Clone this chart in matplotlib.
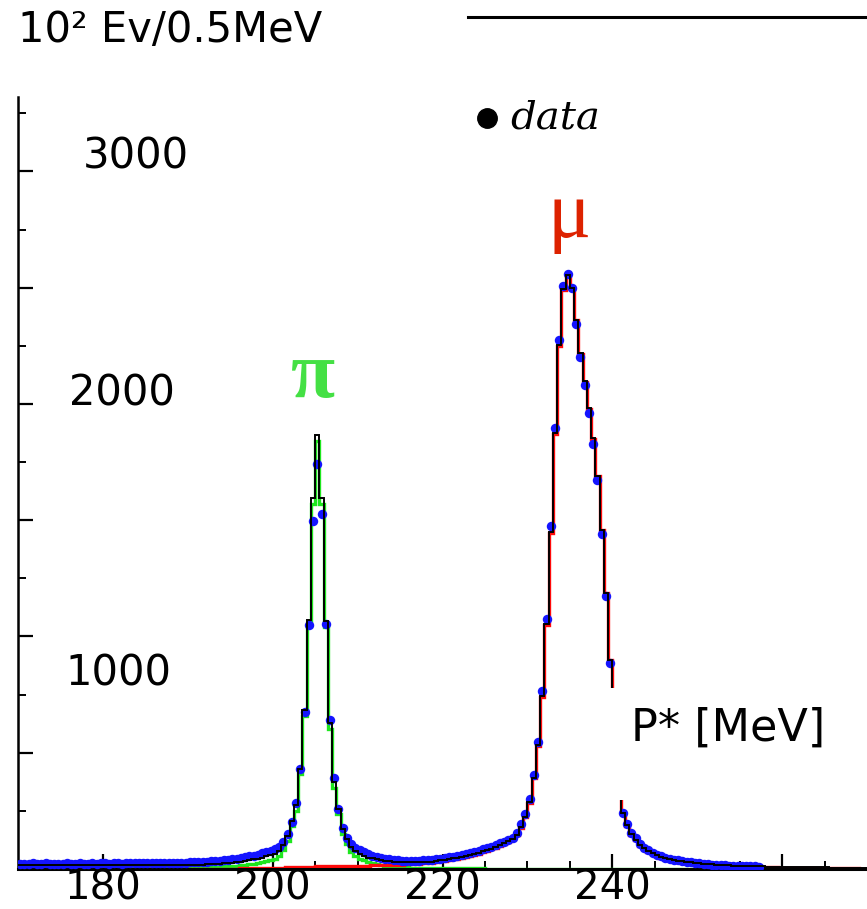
import matplotlib.pyplot as plt
import numpy as np
from matplotlib.lines import Line2D
from matplotlib.patches import Rectangle

# 0.5 MeV bins from 170 to 270 MeV
edges = np.arange(170.0, 270.01, 0.5)

# measured events per bin (dots), bins 170.0 ... 257.0
data = [
    22, 23, 22, 24, 23, 22, 24, 23, 22, 23,            # 170
    23, 24, 22, 23, 24, 23, 22, 24, 23, 24,            # 175
    24, 23, 25, 24, 23, 25, 24, 24, 25, 24,            # 180
    25, 26, 25, 24, 26, 25, 26, 27, 26, 27,            # 185
    28, 29, 30, 31, 32, 33, 35, 36, 38, 40,            # 190
    42, 44, 47, 50, 54, 58, 62, 67, 72, 78,            # 195
    86, 96, 115, 150, 200, 285, 430, 675, 1050, 1496,  # 200
    1741, 1526, 1055, 642, 391, 258, 176, 133, 108, 92,  # 205
    80, 71, 64, 58, 53, 49, 45, 42, 40, 38,            # 210
    36, 35, 35, 35, 36, 37, 38, 40, 42, 44,            # 215
    47, 50, 53, 56, 60, 64, 68, 73, 78, 84,            # 220
    90, 96, 103, 110, 117, 125, 135, 156, 192, 235,    # 225
    300, 403, 546, 765, 1076, 1475, 1898, 2275, 2507, 2560,  # 230
    2497, 2345, 2202, 2080, 1959, 1829, 1671, 1439, 1174, 887,  # 235
    600, 400, 242, 195, 153, 132, 109, 92, 80, 70,     # 240
    62, 55, 49, 44, 40, 37, 34, 31, 29, 27,            # 245
    25, 23, 21, 19, 18, 17, 16, 15, 14, 13,            # 250
    12, 12, 11, 11, 10,                                # 255
]

# pi component (green)
pi_mc = [
    2, 2, 2, 2, 2, 2, 2, 2, 2, 2,
    2, 2, 2, 2, 2, 2, 2, 2, 2, 2,
    3, 3, 3, 3, 3, 3, 3, 3, 3, 3,
    4, 4, 4, 4, 5, 5, 5, 5, 6, 6,
    6, 7, 7, 8, 8, 9, 9, 10, 11, 12,
    13, 14, 16, 18, 20, 23, 26, 30, 35, 40,
    45, 55, 80, 120, 185, 250, 408, 658, 1045, 1570,
    1840, 1570, 1040, 602, 348, 237, 150, 107, 75, 56,
    45, 37, 30, 26, 22, 18, 15, 13, 11, 9,
    8, 7, 6, 6, 5, 5, 5, 4, 4, 4,
    3, 3, 3, 3, 3, 3, 3, 3, 3, 3,
    2, 2, 2, 2, 2, 2, 2, 2, 2, 2,
    2, 2, 2, 2, 2, 2, 2, 2, 2, 2,
    2, 2, 2, 2, 2, 2, 2, 2, 2, 2,
    2, 2, 2, 2, 2, 2, 2, 2, 2, 2,
    2, 2, 2, 2, 2, 2, 2, 2, 2, 2,
    2, 2, 2, 2, 2, 2, 2, 2, 2, 2,
    2, 2, 2, 2, 2, 2, 2, 2, 2, 2,
    2, 2, 2, 2, 2, 2, 2, 2, 2, 2,
    2, 2, 2, 2, 2, 2, 2, 2, 2, 2,
]

# mu component (red)
mu_mc = [
    0, 0, 0, 0, 0, 0, 0, 0, 0, 0,
    0, 0, 0, 0, 0, 0, 0, 0, 0, 0,
    0, 0, 0, 0, 0, 0, 0, 0, 0, 0,
    0, 0, 0, 0, 0, 0, 0, 0, 0, 0,
    0, 0, 0, 0, 1, 1, 1, 1, 2, 2,
    2, 2, 3, 3, 3, 4, 4, 4, 5, 5,
    5, 6, 6, 7, 7, 8, 8, 9, 10, 10,
    11, 12, 12, 13, 13, 13, 14, 14, 14, 14,
    14, 15, 15, 16, 16, 17, 17, 18, 18, 19,
    19, 20, 21, 22, 23, 24, 26, 27, 30, 33,
    36, 39, 42, 45, 49, 53, 57, 62, 66, 72,
    78, 85, 92, 100, 108, 118, 128, 145, 178, 222,
    285, 390, 530, 740, 1050, 1445, 1870, 2250, 2490, 2550,
    2495, 2360, 2215, 2096, 1979, 1850, 1688, 1456, 1186, 897,
    590, 390, 236, 186, 146, 123, 101, 86, 74, 64,
    56, 49, 44, 40, 36, 33, 30, 27, 25, 23,
    21, 20, 18, 17, 16, 15, 14, 13, 12, 11,
    10, 10, 9, 9, 8, 8, 7, 7, 7, 6,
    6, 6, 5, 5, 5, 5, 4, 4, 4, 4,
    4, 3, 3, 3, 3, 3, 3, 3, 2, 2,
]

# remaining background in the total (black)
other_mc = [
    14, 14, 14, 14, 14, 14, 14, 14, 14, 14,
    14, 14, 14, 14, 14, 14, 14, 14, 14, 14,
    14, 14, 14, 14, 13, 13, 13, 13, 13, 13,
    13, 13, 12, 12, 12, 12, 12, 12, 11, 11,
    11, 11, 11, 11, 11, 11, 12, 12, 12, 12,
    12, 13, 13, 13, 14, 14, 14, 15, 15, 15,
    16, 16, 16, 16, 16, 16, 15, 15, 14, 14,
    14, 13, 13, 12, 11, 10, 9, 8, 7, 6,
    5, 5, 4, 4, 3, 3, 3, 2, 2, 2,
    2, 2, 2, 2, 2, 1, 1, 1, 1, 1,
    1, 1, 1, 1, 1, 1, 1, 1, 1, 1,
    1, 1, 1, 1, 1, 1, 1, 1, 1, 1,
    1, 1, 1, 1, 1, 1, 1, 1, 1, 1,
    1, 1, 1, 1, 1, 1, 1, 1, 1, 1,
    1, 1, 1, 1, 1, 1, 1, 1, 1, 1,
    1, 1, 1, 1, 1, 1, 1, 1, 1, 1,
    1, 1, 1, 1, 1, 1, 1, 1, 1, 1,
    1, 1, 1, 1, 1, 1, 1, 1, 1, 1,
    1, 1, 1, 1, 1, 1, 1, 1, 1, 1,
    1, 1, 1, 1, 1, 1, 1, 1, 1, 1,
]

x_ticks = [180, 200, 220, 240, 260]
x_ticklabels = ['180', '200', '220', '240', '']
y_labels = ['3000', '2000', '1000']

pi_mc = np.array(pi_mc)
mu_mc = np.array(mu_mc)
total_mc = pi_mc + mu_mc + np.array(other_mc)
centers = 0.5 * (edges[:-1] + edges[1:])

fig = plt.figure(figsize=(8.67, 9.09), dpi=100)
ax = fig.add_axes([18 / 867, 40 / 909, 849 / 867, 772 / 909])

ax.plot(centers[:len(data)], data, 'o', color='#1414ff', ms=6.8, mec='none', zorder=3)
ax.stairs(pi_mc, edges, color='#1ee61e', lw=2.4, baseline=None, zorder=2)
ax.stairs(mu_mc, edges, color='#ff0a0a', lw=2.4, baseline=None, zorder=2)
ax.stairs(total_mc, edges, color='black', lw=1.4, baseline=None, zorder=4)

ax.set_xlim(170, 270)
ax.set_ylim(0, 3320)

ax.set_xticks(x_ticks)
ax.set_xticklabels(x_ticklabels, fontsize=29)
ax.set_xticks(np.arange(175, 270, 5), minor=True)
ax.set_yticks(np.arange(0, 3320, 500))
ax.set_yticks(np.arange(250, 3320, 500), minor=True)
ax.tick_params(axis='both', which='major', direction='in', length=10.5, width=1.6, pad=0)
ax.tick_params(axis='both', which='minor', direction='in', length=5.5, width=1.4)
ax.tick_params(axis='y', labelleft=False)

for side in ['top', 'right']:
    ax.spines[side].set_visible(False)
ax.spines['left'].set_linewidth(1.8)
ax.spines['bottom'].set_linewidth(2.2)

# the y labels sit loosely beside their ticks, as in the original
for lab, xf, yv in zip(y_labels, [0.139, 0.1225, 0.118], [3066, 2043, 839]):
    ax.text(xf, yv, lab, transform=ax.get_yaxis_transform(), fontsize=30,
            ha='center', va='center')

# white patch behind the axis title
ax.add_patch(Rectangle((239.3, 297), 31, 481, facecolor='white', edgecolor='none', zorder=5))
ax.text(253.7, 606, 'P* [MeV]', fontsize=32, ha='center', va='center', zorder=6)

ax.text(204.7, 2112, 'π', color='#44e044', fontsize=58, family='Liberation Serif',
        weight='bold', ha='center', va='center')
ax.text(234.9, 2800, 'μ', color='#dd2200', fontsize=58, family='Liberation Serif',
        ha='center', va='center')

ax.plot([225.2], [3230], 'o', color='black', ms=14, clip_on=False)
ax.text(228.0, 3230, 'data', fontsize=29, style='italic', family='DejaVu Serif',
        ha='left', va='center')

fig.text(18 / 867, 1 - 30 / 909, '10² Ev/0.5MeV', fontsize=30, ha='left', va='center')
fig.add_artist(Line2D([468 / 867, 1.0], [1 - 17 / 909, 1 - 17 / 909], color='black', lw=2.2))

fig.savefig('out.png', dpi=100)
